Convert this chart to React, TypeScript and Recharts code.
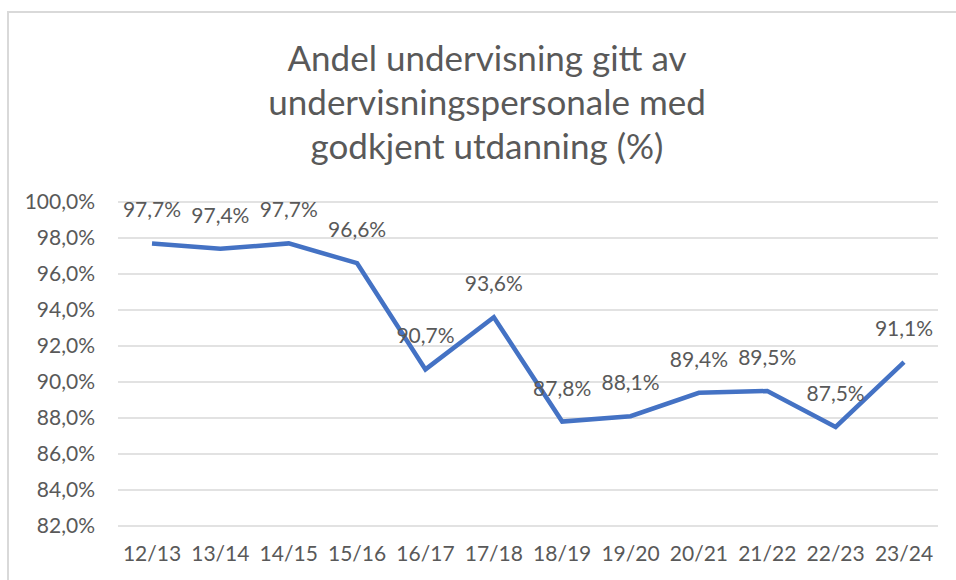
import { CartesianGrid, LabelList, Line, LineChart, XAxis, YAxis } from "recharts";

const seasons = ["12/13", "13/14", "14/15", "15/16", "16/17", "17/18", "18/19", "19/20", "20/21", "21/22", "22/23", "23/24"];
const shares = [97.7, 97.4, 97.7, 96.6, 90.7, 93.6, 87.8, 88.1, 89.4, 89.5, 87.5, 91.1];
const yTicks = [82, 84, 86, 88, 90, 92, 94, 96, 98, 100];
const titleLines = ["Andel undervisning gitt av", "undervisningspersonale med", "godkjent utdanning (%)"];

const data = seasons.map((season, i) => ({ season, share: shares[i] }));

const FONT = "Lato, 'Open Sans', sans-serif";
const GRAY = "#595959";

const pct = (v: number) => v.toFixed(1).replace(".", ",") + "%";

function PointLabel(props: any) {
  const { x, y, value } = props;
  return (
    <text x={x} y={y - 26} textAnchor="middle" fill={GRAY} fontSize={21} fontFamily={FONT}>
      {pct(value)}
    </text>
  );
}

export default function App() {
  return (
    <div style={{ position: "relative", width: 956, height: 580, overflow: "hidden", background: "#fff" }}>
      <style>{`body{margin:0;overflow:hidden}`}</style>
      <div
        style={{
          position: "absolute",
          left: 7,
          top: 11,
          width: 960,
          height: 600,
          borderLeft: "2px solid #d9d9d9",
          borderTop: "2px solid #d9d9d9",
        }}
      />
      <div
        style={{
          position: "absolute",
          left: 487 - 300,
          top: 35,
          width: 600,
          textAlign: "center",
          fontFamily: FONT,
          fontSize: 35,
          lineHeight: "44px",
          color: GRAY,
        }}
      >
        {titleLines.map((line) => (
          <div key={line}>{line}</div>
        ))}
      </div>
      <div style={{ position: "absolute", left: 0, top: 0 }}>
        <LineChart width={956} height={580} data={data} margin={{ top: 202, right: 18, bottom: 0, left: 0 }}>
          <CartesianGrid vertical={false} stroke="#d9d9d9" strokeWidth={1.5} />
          <XAxis
            dataKey="season"
            height={54}
            padding={{ left: 34, right: 34 }}
            axisLine={false}
            tickLine={false}
            tickSize={0}
            tickMargin={20}
            interval={0}
            tick={{ fill: GRAY, fontSize: 21, fontFamily: FONT }}
          />
          <YAxis
            width={118}
            domain={[82, 100]}
            ticks={yTicks}
            axisLine={false}
            tickLine={false}
            tickSize={0}
            tickMargin={23}
            tickFormatter={pct}
            tick={{ fill: GRAY, fontSize: 21, fontFamily: FONT }}
          />
          <Line
            type="linear"
            dataKey="share"
            stroke="#4472C4"
            strokeWidth={4.5}
            dot={false}
            isAnimationActive={false}
          >
            <LabelList dataKey="share" content={<PointLabel />} />
          </Line>
        </LineChart>
      </div>
    </div>
  );
}
